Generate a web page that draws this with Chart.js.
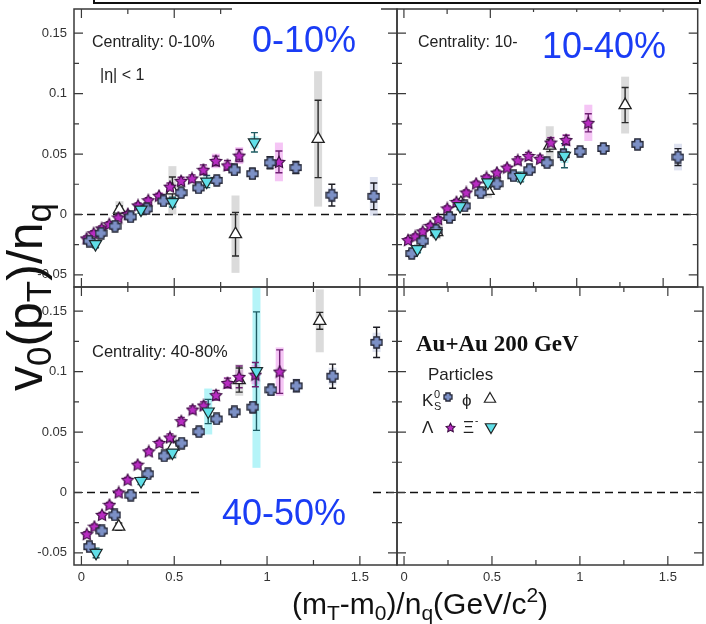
<!DOCTYPE html>
<html>
<head>
<meta charset="utf-8">
<script src="https://cdn.jsdelivr.net/npm/chart.js@4.4.1/dist/chart.umd.min.js"></script>
<style>
  body { margin: 0; background: #fff; }
  #wrap { position: relative; width: 706px; height: 624px; overflow: hidden; background: #fff; }
  #wrap canvas { position: absolute; left: 0; top: 0; }
</style>
</head>
<body>
<div id="wrap">
  <canvas id="c010" width="706" height="624"></canvas>
  <canvas id="c1040" width="706" height="624"></canvas>
  <canvas id="c4080" width="706" height="624"></canvas>
  <canvas id="cleg" width="706" height="624"></canvas>
</div>
<script>
// v0(pT)/nq vs (mT-m0)/nq, rows are [x, y, stat error, syst error]

// centrality 0-10%
const k0s_0_10 = [[0.043,-0.022,0.003,0.003],[0.106,-0.0155,0.003,0.003],[0.181,-0.0097,0.003,0.003],[0.265,-0.002,0.003,0.003],[0.352,0.0047,0.003,0.003],[0.442,0.0112,0.003,0.003],[0.537,0.018,0.003,0.003],[0.631,0.022,0.003,0.003],[0.729,0.0282,0.003,0.003],[0.824,0.0369,0.004,0.003],[0.921,0.0337,0.004,0.003],[1.016,0.0428,0.005,0.004],[1.155,0.0388,0.005,0.005],[1.349,0.016,0.009,0.006],[1.575,0.015,0.011,0.016]];
const lam_0_10 = [[0.028,-0.0198,0.002,0.002],[0.066,-0.0155,0.002,0.002],[0.109,-0.0115,0.002,0.002],[0.15,-0.008,0.002,0.002],[0.199,-0.0025,0.002,0.002],[0.25,0.0005,0.002,0.002],[0.305,0.0075,0.002,0.002],[0.36,0.0118,0.002,0.002],[0.418,0.0155,0.002,0.003],[0.477,0.023,0.003,0.003],[0.537,0.0278,0.003,0.003],[0.596,0.0298,0.003,0.003],[0.657,0.037,0.004,0.004],[0.724,0.0443,0.004,0.006],[0.787,0.0406,0.004,0.004],[0.85,0.0487,0.005,0.007],[1.064,0.0435,0.009,0.016]];
const phi_0_10 = [[0.205,0.004,0.003,0.007],[0.49,0.02,0.011,0.02],[0.83,-0.0163,0.018,0.032],[1.275,0.0625,0.032,0.056]];
const xi_0_10 = [[0.076,-0.0245,0.003,0.003],[0.321,0.004,0.003,0.003],[0.491,0.0102,0.004,0.004],[0.675,0.0272,0.005,0.004],[0.932,0.0597,0.008,0.005]];

// centrality 10-40%
const k0s_10_40 = [[0.045,-0.0323,0.003,0.003],[0.109,-0.022,0.003,0.003],[0.186,-0.013,0.003,0.003],[0.264,-0.0025,0.003,0.003],[0.352,0.0071,0.003,0.003],[0.444,0.018,0.003,0.003],[0.539,0.0254,0.003,0.003],[0.634,0.032,0.003,0.003],[0.727,0.037,0.003,0.003],[0.828,0.0428,0.003,0.003],[0.923,0.0495,0.004,0.004],[1.019,0.0522,0.003,0.003],[1.154,0.0546,0.003,0.003],[1.352,0.058,0.003,0.003],[1.586,0.0475,0.007,0.011]];
const lam_10_40 = [[0.024,-0.0212,0.002,0.002],[0.066,-0.0182,0.002,0.002],[0.109,-0.014,0.002,0.002],[0.153,-0.0094,0.002,0.002],[0.198,-0.0039,0.002,0.002],[0.251,0.005,0.002,0.002],[0.304,0.0104,0.002,0.002],[0.361,0.0182,0.002,0.002],[0.418,0.0256,0.002,0.002],[0.478,0.0306,0.002,0.002],[0.538,0.0347,0.002,0.002],[0.597,0.0388,0.002,0.003],[0.659,0.0448,0.003,0.003],[0.721,0.0484,0.003,0.003],[0.788,0.0461,0.003,0.003],[0.85,0.0595,0.004,0.005],[0.939,0.0616,0.004,0.005],[1.067,0.0758,0.0075,0.015]];
const phi_10_40 = [[0.19,-0.0145,0.004,0.006],[0.33,0.0095,0.003,0.004],[0.487,0.0195,0.003,0.006],[0.844,0.057,0.005,0.016],[1.28,0.0905,0.0145,0.0235]];
const xi_10_40 = [[0.078,-0.0287,0.003,0.003],[0.185,-0.0155,0.003,0.003],[0.325,0.0069,0.003,0.003],[0.486,0.0265,0.004,0.004],[0.675,0.031,0.004,0.004],[0.929,0.0486,0.01,0.006]];

// centrality 40-80%
const k0s_40_80 = [[0.043,-0.0448,0.003,0.003],[0.11,-0.0318,0.003,0.003],[0.179,-0.0186,0.003,0.003],[0.266,-0.0022,0.003,0.003],[0.358,0.0154,0.003,0.003],[0.446,0.0302,0.003,0.003],[0.54,0.0408,0.003,0.003],[0.633,0.0503,0.003,0.003],[0.728,0.0608,0.003,0.003],[0.824,0.0667,0.003,0.003],[0.923,0.0706,0.004,0.004],[1.021,0.0849,0.004,0.005],[1.158,0.0882,0.005,0.006],[1.353,0.0962,0.01,0.007],[1.59,0.1242,0.0125,0.008]];
const lam_40_80 = [[0.029,-0.0345,0.002,0.002],[0.07,-0.0282,0.002,0.002],[0.111,-0.0185,0.002,0.002],[0.151,-0.0102,0.002,0.002],[0.201,0,0.002,0.002],[0.249,0.0105,0.002,0.002],[0.303,0.023,0.002,0.002],[0.363,0.034,0.002,0.002],[0.42,0.041,0.002,0.002],[0.477,0.0455,0.003,0.003],[0.538,0.059,0.003,0.003],[0.599,0.0686,0.003,0.003],[0.658,0.072,0.003,0.004],[0.725,0.0805,0.004,0.004],[0.787,0.0906,0.004,0.005],[0.85,0.0956,0.009,0.006],[0.937,0.0975,0.01,0.008],[1.068,0.1,0.018,0.02]];
const phi_40_80 = [[0.201,-0.0282,0.003,0.003],[0.494,0.038,0.004,0.01],[0.85,0.093,0.01,0.013],[1.284,0.142,0.007,0.026]];
const xi_40_80 = [[0.079,-0.05,0.004,0.003],[0.321,0.0095,0.003,0.003],[0.49,0.033,0.004,0.004],[0.683,0.067,0.01,0.019],[0.943,0.1004,0.049,0.08]];

const yTicks = [-0.05, 0, 0.05, 0.1, 0.15];
const xTicks = [0, 0.5, 1, 1.5];

const W = 706, H = 624;
const X_MIN = -0.04, X_MAX = 1.7, Y_MIN = -0.06, Y_MAX = 0.17;
const SANS = '"Liberation Sans", Arial, sans-serif';
const BLUE = '#1a3cf5';

// ROOT-like marker glyphs
function crossMarker(s, fill, edge) {
  const c = document.createElement('canvas');
  c.width = c.height = s;
  const g = c.getContext('2d');
  const m = s / 2, a = s * 0.21, b = s / 2 - 1;
  g.beginPath();
  g.moveTo(m - a, m - b); g.lineTo(m + a, m - b); g.lineTo(m + a, m - a);
  g.lineTo(m + b, m - a); g.lineTo(m + b, m + a); g.lineTo(m + a, m + a);
  g.lineTo(m + a, m + b); g.lineTo(m - a, m + b); g.lineTo(m - a, m + a);
  g.lineTo(m - b, m + a); g.lineTo(m - b, m - a); g.lineTo(m - a, m - a);
  g.closePath();
  g.fillStyle = fill; g.fill();
  g.lineWidth = 1.3; g.strokeStyle = edge; g.stroke();
  return c;
}

function starMarker(s, fill, edge) {
  const c = document.createElement('canvas');
  c.width = c.height = s;
  const g = c.getContext('2d');
  const m = s / 2, r = s / 2 - 0.8, ri = r * 0.5;
  g.beginPath();
  for (let i = 0; i < 10; i++) {
    const rr = i % 2 ? ri : r;
    const ang = -Math.PI / 2 + i * Math.PI / 5;
    const px = m + rr * Math.cos(ang), py = m + 0.5 + rr * Math.sin(ang);
    i ? g.lineTo(px, py) : g.moveTo(px, py);
  }
  g.closePath();
  g.fillStyle = fill; g.fill();
  g.lineWidth = 1.1; g.strokeStyle = edge; g.stroke();
  return c;
}

const K0S_FILL = '#7c90c6', LAM_FILL = '#b82cc2', XI_FILL = '#5fdfe8';
const crossImg = crossMarker(13, K0S_FILL, '#262838');
const starImg = starMarker(14, LAM_FILL, '#3a0b40');
const crossSmall = crossMarker(10, K0S_FILL, '#262838');
const starSmall = starMarker(11, LAM_FILL, '#3a0b40');

function rows(arr) {
  return arr.map(r => ({ x: r[0], y: r[1], err: r[2], sys: r[3] }));
}

// datasets listed top-most first
function series(k0s, lam, phi, xi) {
  return [
    { data: rows(xi), pointStyle: 'triangle', rotation: 180, pointRadius: 7, backgroundColor: XI_FILL, borderColor: '#1d2a2c', borderWidth: 1.2, sysColor: 'rgba(90,230,240,0.45)', errColor: '#1e5c63' },
    { data: rows(k0s), pointStyle: crossImg, sysColor: 'rgba(190,198,225,0.5)', errColor: '#1d1d24' },
    { data: rows(lam), pointStyle: starImg, sysColor: 'rgba(235,140,235,0.5)', errColor: '#6e1f72' },
    { data: rows(phi), pointStyle: 'triangle', pointRadius: 7, backgroundColor: '#ffffff', borderColor: '#222', borderWidth: 1.3, sysColor: 'rgba(175,175,175,0.45)', errColor: '#2a2a2a' }
  ];
}

function text(ctx, str, x, y, font, color, align) {
  ctx.font = font;
  ctx.fillStyle = color || '#222';
  ctx.textAlign = align || 'left';
  ctx.textBaseline = 'middle';
  ctx.fillText(str, x, y);
}

// runs of [string, size, baseline shift]
function richText(ctx, parts, x, y, family, align) {
  ctx.textBaseline = 'alphabetic';
  ctx.textAlign = 'left';
  let total = 0;
  parts.forEach(p => { ctx.font = p[1] + 'px ' + family; total += ctx.measureText(p[0]).width; });
  let cx = align === 'center' ? x - total / 2 : x;
  parts.forEach(p => {
    ctx.font = p[1] + 'px ' + family;
    ctx.fillText(p[0], cx, y + (p[2] || 0));
    cx += ctx.measureText(p[0]).width;
  });
}

function panelPlugin(cfg) {
  return {
    id: 'panelDecor',
    beforeDatasetsDraw(chart) {
      const { ctx, chartArea: a, scales: { x, y } } = chart;
      ctx.save();
      ctx.beginPath();
      ctx.rect(a.left, a.top, a.right - a.left, a.bottom - a.top);
      ctx.clip();
      // zero line
      const y0 = y.getPixelForValue(0);
      ctx.setLineDash([8, 5]);
      ctx.lineWidth = 1.6;
      ctx.strokeStyle = '#111';
      ctx.beginPath(); ctx.moveTo(a.left, y0); ctx.lineTo(a.right, y0); ctx.stroke();
      ctx.setLineDash([]);
      if (!cfg.empty) {
        // systematic boxes
        chart.data.datasets.forEach(ds => {
          ctx.fillStyle = ds.sysColor;
          ds.data.forEach(p => {
            const px = x.getPixelForValue(p.x);
            const t = y.getPixelForValue(p.y + p.sys), b = y.getPixelForValue(p.y - p.sys);
            ctx.fillRect(px - 4, t, 8, b - t);
          });
        });
        // statistical bars
        chart.data.datasets.forEach(ds => {
          ctx.strokeStyle = ds.errColor;
          ctx.lineWidth = 1.4;
          ds.data.forEach(p => {
            const px = x.getPixelForValue(p.x);
            const t = y.getPixelForValue(p.y + p.err), b = y.getPixelForValue(p.y - p.err);
            ctx.beginPath();
            ctx.moveTo(px, t); ctx.lineTo(px, b);
            ctx.moveTo(px - 3.5, t); ctx.lineTo(px + 3.5, t);
            ctx.moveTo(px - 3.5, b); ctx.lineTo(px + 3.5, b);
            ctx.stroke();
          });
        });
      }
      ctx.restore();
    },
    afterDraw(chart) {
      const { ctx, chartArea: a, scales: { x, y } } = chart;
      ctx.save();
      // frame
      ctx.strokeStyle = '#3a3a3a';
      ctx.lineWidth = 1.5;
      ctx.strokeRect(a.left, a.top, a.right - a.left, a.bottom - a.top);
      // inward ticks on all four sides
      ctx.lineWidth = 1.2;
      ctx.beginPath();
      for (let v = -0.05; v <= 0.1501; v += 0.025) {
        const py = y.getPixelForValue(v);
        const len = Math.abs(Math.round(v / 0.025)) % 2 === 0 ? 9 : 5;
        ctx.moveTo(a.left, py); ctx.lineTo(a.left + len, py);
        ctx.moveTo(a.right, py); ctx.lineTo(a.right - len, py);
      }
      for (let v = 0; v <= 1.5001; v += 0.25) {
        const px = x.getPixelForValue(v);
        const len = Math.round(v / 0.25) % 2 === 0 ? 9 : 5;
        ctx.moveTo(px, a.bottom); ctx.lineTo(px, a.bottom - len);
        ctx.moveTo(px, a.top); ctx.lineTo(px, a.top + len);
      }
      ctx.stroke();
      // tick labels
      if (cfg.yLabels) {
        yTicks.forEach(v => text(ctx, String(v), a.left - 7, y.getPixelForValue(v), '13px ' + SANS, '#333', 'right'));
      }
      if (cfg.xLabels) {
        xTicks.forEach(v => text(ctx, String(v), x.getPixelForValue(v), a.bottom + 12, '13px ' + SANS, '#333', 'center'));
      }
      if (cfg.extra) cfg.extra(ctx, a);
      ctx.restore();
    }
  };
}

function makePanel(id, area, datasets, cfg) {
  return new Chart(document.getElementById(id), {
    type: 'scatter',
    data: { datasets },
    options: {
      responsive: false,
      animation: false,
      devicePixelRatio: 1,
      layout: { padding: { left: area[0], top: area[1], right: W - area[2], bottom: H - area[3] } },
      scales: {
        x: { type: 'linear', min: X_MIN, max: X_MAX, display: false },
        y: { type: 'linear', min: Y_MIN, max: Y_MAX, display: false }
      },
      plugins: { legend: { display: false }, tooltip: { enabled: false } }
    },
    plugins: [panelPlugin(cfg)]
  });
}

function whiteLabel(ctx, box, str, tx, ty) {
  ctx.fillStyle = '#fff';
  ctx.fillRect(box[0], box[1], box[2] - box[0], box[3] - box[1]);
  text(ctx, str, tx, ty, '36px ' + SANS, BLUE, 'left');
}

function tri(ctx, cx, cy, r, down, fill) {
  const s = down ? -1 : 1;
  ctx.beginPath();
  ctx.moveTo(cx, cy - s * r);
  ctx.lineTo(cx + r * 0.866, cy + s * r * 0.5);
  ctx.lineTo(cx - r * 0.866, cy + s * r * 0.5);
  ctx.closePath();
  ctx.fillStyle = fill; ctx.fill();
  ctx.lineWidth = 1.2; ctx.strokeStyle = '#222'; ctx.stroke();
}

makePanel('c010', [74, 9, 397, 287], series(k0s_0_10, lam_0_10, phi_0_10, xi_0_10), {
  yLabels: true,
  extra(ctx) {
    text(ctx, 'Centrality: 0-10%', 92, 43, '16px ' + SANS, '#222');
    text(ctx, '|\u03b7| < 1', 100, 76, '16px ' + SANS, '#222');
    whiteLabel(ctx, [232, 5, 381, 63], '0-10%', 252, 42);
    // outer box edge along the top
    ctx.strokeStyle = '#111';
    ctx.lineWidth = 2;
    ctx.strokeRect(94, -10, 606, 13);
  }
});

makePanel('c1040', [397, 9, 703, 287], series(k0s_10_40, lam_10_40, phi_10_40, xi_10_40), {
  extra(ctx) {
    text(ctx, 'Centrality: 10-40%', 418, 43, '16px ' + SANS, '#222');
    whiteLabel(ctx, [517, 12, 684, 72], '10-40%', 542, 48);
  }
});

makePanel('c4080', [74, 287, 397, 565], series(k0s_40_80, lam_40_80, phi_40_80, xi_40_80), {
  yLabels: true,
  xLabels: true,
  extra(ctx) {
    text(ctx, 'Centrality: 40-80%', 92, 352, '16.5px ' + SANS, '#222');
    whiteLabel(ctx, [203, 479, 371, 546], '40-50%', 222, 515);
  }
});

makePanel('cleg', [397, 287, 703, 565], [], {
  empty: true,
  xLabels: true,
  extra(ctx) {
    // species key
    ctx.fillStyle = '#111';
    ctx.font = 'bold 23px "Liberation Serif", "Times New Roman", serif';
    ctx.textAlign = 'left'; ctx.textBaseline = 'alphabetic';
    ctx.fillText('Au+Au 200 GeV', 416, 351);
    text(ctx, 'Particles', 428, 375, '17px ' + SANS, '#222');
    ctx.fillStyle = '#222';
    richText(ctx, [['K', 17, 0]], 422, 406, SANS);
    ctx.font = '11px ' + SANS; ctx.fillText('0', 434, 398); ctx.fillText('S', 434, 410);
    ctx.drawImage(crossSmall, 443, 392);
    text(ctx, '\u03d5', 462, 401, '17px ' + SANS, '#222');
    tri(ctx, 490, 399, 6.5, false, '#fff');
    text(ctx, '\u039b', 422, 428, '17px ' + SANS, '#222');
    ctx.drawImage(starSmall, 445, 422);
    text(ctx, '\u039e', 463, 428, '17px ' + SANS, '#222');
    text(ctx, '-', 475, 421, '10px ' + SANS, '#222');
    tri(ctx, 491, 427, 6.5, true, XI_FILL);

    // axis titles
    ctx.fillStyle = '#111';
    richText(ctx, [['(m', 30], ['T', 21, 6], ['-m', 30], ['0', 21, 6], [')/n', 30], ['q', 21, 6], ['(GeV/c', 30], ['2', 21, -12], [')', 30]], 420, 614, SANS, 'center');
    ctx.save();
    ctx.translate(42, 297);
    ctx.rotate(-Math.PI / 2);
    richText(ctx, [['v', 50], ['0', 35, 9], ['(p', 50], ['T', 35, 9], [')/n', 50], ['q', 35, 9]], 0, 0, SANS, 'center');
    ctx.restore();
  }
});
</script>
</body>
</html>
